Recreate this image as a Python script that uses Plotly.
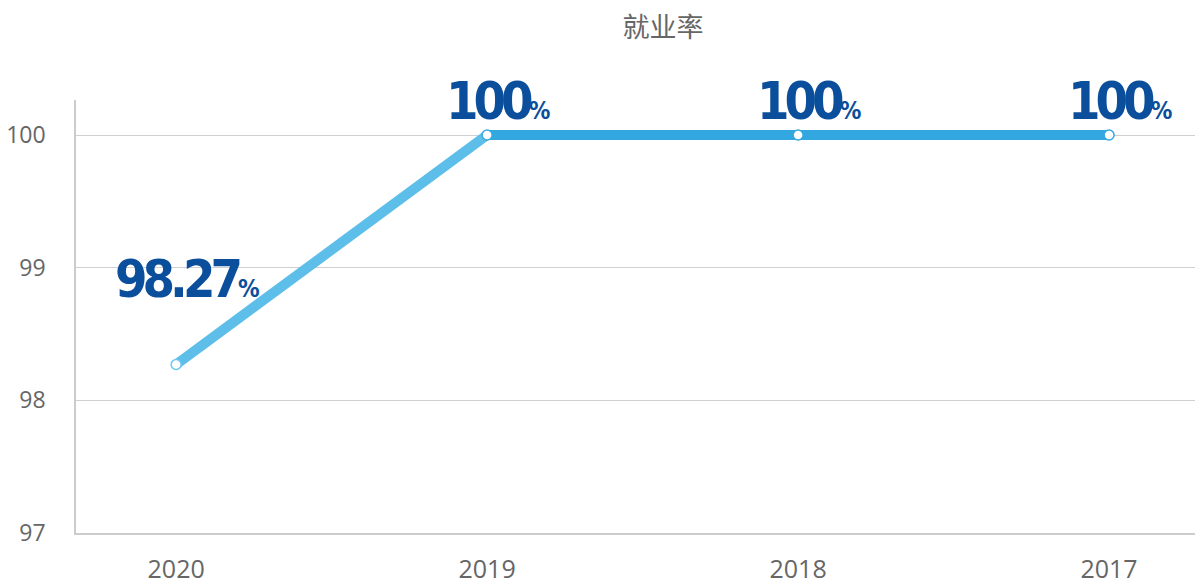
import plotly.graph_objects as go

years = ["2020", "2019", "2018", "2017"]
rates = [98.27, 100, 100, 100]
labels = ["98.27", "100", "100", "100"]
y_ticks = [97, 98, 99, 100]

label_shift = [54, 2, 2, 2]

fig = go.Figure()
# first (rising) segment drawn lighter, as in the reference's gradient
fig.add_trace(go.Scatter(
    x=years[:2], y=rates[:2], mode="lines",
    line=dict(color="#5dbeea", width=10),
    hoverinfo="skip", showlegend=False,
))
fig.add_trace(go.Scatter(
    x=years[1:], y=rates[1:], mode="lines",
    line=dict(color="#33a8e0", width=10),
    hoverinfo="skip", showlegend=False,
))
fig.add_trace(go.Scatter(
    x=years, y=rates, mode="markers",
    marker=dict(size=10, color="white",
                line=dict(color=["#6cc6ef", "#38aae1", "#33a8e0", "#33a8e0"], width=1.5)),
    hoverinfo="skip", showlegend=False,
))

for i, (y, t, s) in enumerate(zip(rates, labels, label_shift)):
    fig.add_annotation(
        x=i, y=y, xref="x", yref="y",
        text=("<span style='letter-spacing:-5px'><b>" + t + "</b></span>"
              "<span style='font-size:24px;letter-spacing:0px'><b>%</b></span>"),
        showarrow=False, yanchor="bottom", xanchor="center",
        xshift=11, yshift=s,
        font=dict(family="Liberation Sans Narrow, DejaVu Sans Condensed, sans-serif",
                  size=52, color="#0b4f9c"),
    )

fig.update_layout(
    width=1195, height=573,
    margin=dict(l=68, r=0, t=92, b=48, autoexpand=False),
    paper_bgcolor="white", plot_bgcolor="white",
    title=dict(text="就业率", x=(663 - 76) / 1127, xref="paper", xanchor="center",
               y=0.966, yref="container", yanchor="middle",
               font=dict(family="Noto Sans CJK SC, sans-serif", size=27, color="#666666")),
    xaxis=dict(type="category", range=[-0.322, 3.302], showgrid=False, automargin=False,
               showline=True, linecolor="#cccccc", linewidth=1.5, ticks="",
               tickfont=dict(family="Open Sans, Noto Sans, sans-serif", size=25, color="#666666"),
               ticklabelstandoff=13),
    yaxis=dict(range=[97, 100.264], tickvals=y_ticks, showgrid=True, gridcolor="#d0d0d0",
               gridwidth=1, showline=True, linecolor="#cccccc", linewidth=1.5, ticks="",
               zeroline=False, automargin=False,
               tickfont=dict(family="Open Sans, Noto Sans, sans-serif", size=23, color="#666666"),
               ticklabelstandoff=24),
)

fig.write_html("out.html")
